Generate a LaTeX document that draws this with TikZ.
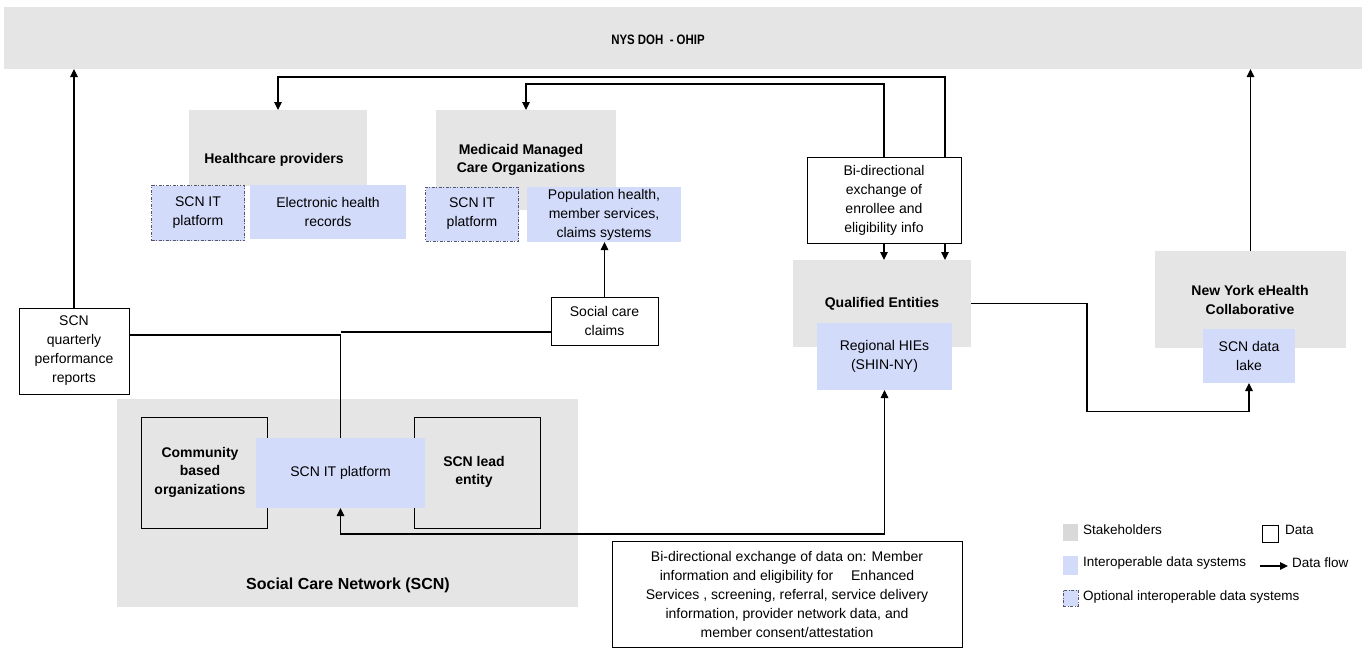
\documentclass[tikz,border=0pt]{standalone}
\usepackage{fontspec}
\usepackage{graphicx}
\setmainfont{Liberation Sans}
\usetikzlibrary{arrows.meta}
\definecolor{stake}{RGB}{229,229,229}
\definecolor{stakeL}{RGB}{217,217,217}
\definecolor{ids}{RGB}{211,219,250}
\definecolor{dashc}{RGB}{85,85,110}
\begin{document}
\begin{tikzpicture}[x=1pt,y=-1pt,
  font=\fontsize{14}{19}\selectfont,
  >={Triangle[length=8pt,width=7.5pt]},
  stk/.style={fill=stake, draw=none, inner sep=0pt, outer sep=0pt},
  sys/.style={fill=ids, draw=none, align=center, inner sep=0pt, outer sep=0pt},
  opt/.style={fill=ids, draw=dashc, line width=0.7pt, dash pattern=on 3pt off 1.5pt on 1pt off 1.5pt, align=center, inner sep=0pt, outer sep=0pt},
  dat/.style={draw=black, line width=0.8pt, fill=white, align=center, inner sep=0pt, outer sep=0pt},
  frame/.style={draw=black, line width=0.8pt, inner sep=0pt, outer sep=0pt},
  lbl/.style={font=\fontsize{14}{18.5}\selectfont\bfseries, align=center},
  flow/.style={line width=1.1pt, ->},
  link/.style={line width=1.1pt},
  legtxt/.style={anchor=west, font=\fontsize{13.5}{16}\selectfont, inner sep=0pt}
]
\useasboundingbox (0,0) rectangle (1366,648);

% ---------- stakeholders (grey) ----------
\node[stk, minimum width=1358, minimum height=62] (doh) at (683,38) {};
\node[stk, minimum width=178, minimum height=76] (hp) at (278,148) {};
\node[stk, minimum width=180, minimum height=100] (mmco) at (526,160) {};
\node[stk, minimum width=178, minimum height=87] (qe) at (882,303.5) {};
\node[stk, minimum width=191, minimum height=97] (nyec) at (1250.5,299.5) {};
\node[stk, minimum width=461, minimum height=208] (scn) at (347.5,503) {};

% ---------- data boxes ----------
\node[dat, minimum width=154, minimum height=86] (bidir) at (884,200)
  {Bi-directional\\exchange of\\enrollee and\\eligibility info};
\node[dat, minimum width=110, minimum height=86] (qrt) at (74,351)
  {SCN\\quarterly\\performance\\reports};
\node[dat, minimum width=107, minimum height=48] (claims) at (604.5,321)
  {Social care\\claims};
\node[dat, minimum width=350, minimum height=106] (bott) at (787,594)
  {Bi-directional exchange of data on: Member\\
   information and eligibility for\quad\ Enhanced\\
   Services , screening, referral, service delivery\\
   information, provider network data, and\\
   member consent/attestation};
\node[frame, minimum width=126, minimum height=111] (cbo) at (204,472.5) {};
\node[frame, minimum width=126, minimum height=111] (lead) at (477,472.5) {};

% ---------- interoperable data systems (blue) ----------
\node[opt, minimum width=93, minimum height=55] (hpopt) at (198,213) {SCN IT\\platform};
\node[sys, minimum width=156, minimum height=54] (ehr) at (328,212) {Electronic health\\records};
\node[opt, minimum width=93, minimum height=54] (mmopt) at (472,214) {SCN IT\\platform};
\node[sys, minimum width=154, minimum height=55] (pop) at (604,214.5) {Population health,\\member services,\\claims systems};
\node[sys, minimum width=135, minimum height=67] (hies) at (884.5,356.5) {Regional HIEs\\(SHIN-NY)};
\node[sys, minimum width=92, minimum height=54] (lake) at (1249,356) {SCN data\\lake};
\node[sys, minimum width=169, minimum height=70] (scnit) at (340.5,473) {SCN IT platform};

% ---------- labels ----------
\node (dohT) at (658,40) {\scalebox{0.88}[1.05]{\fontsize{13}{15}\selectfont\bfseries NYS DOH\ \ - OHIP}};
\node[lbl] (hpT) at (274,160) {Healthcare providers};
\node[lbl] (mmcoT) at (521,160) {Medicaid Managed\\Care Organizations};
\node[lbl] (qeT) at (882,304) {Qualified Entities};
\node[lbl] (nyecT) at (1250,300) {New York eHealth\\Collaborative};
\node[lbl] (cboT) at (200,472) {Community\\based\\organizations};
\node[lbl] (leadT) at (474,472) {SCN lead\\entity};
\node[lbl, font=\fontsize{16}{19}\selectfont\bfseries] (scnT) at (348,585) {Social Care Network (SCN)};

% ---------- connectors ----------
\draw[flow] (qrt.north) -- (qrt.north |- doh.south);
\draw[link] (scnit.north) |- ([yshift=16pt]qrt.east);
\draw[link] ([yshift=-11pt]claims.west) -- ([yshift=-11pt]claims.west -| scnit.north);
\draw[flow] (claims.north) -- (claims.north |- pop.south);
\draw[flow] ([xshift=61pt]bidir.north) -- ++(0,-80) -| (hp.north);
\draw[flow] (bidir.north) -- ++(0,-73) -| (mmco.north);
\draw[flow] (bidir.south) -- (bidir.south |- qe.north);
\draw[flow] ([xshift=61pt]bidir.south) -- ([xshift=61pt]bidir.south |- qe.north);
\draw[flow] (qe.east) -- ++(116,0) -- ++(0,108) -| (lake.south);
\draw[flow] (nyec.north) -- (nyec.north |- doh.south);
\draw[line width=1.1pt, <->] (scnit.south) -- ++(0,26) -| (hies.south);

% ---------- legend ----------
\node[fill=stakeL, minimum width=15, minimum height=17, inner sep=0pt] (lg1) at (1070.5,532.5) {};
\node[legtxt] (lg1t) at (1083,530) {Stakeholders};
\node[fill=ids, minimum width=15, minimum height=19, inner sep=0pt] (lg2) at (1070.5,565) {};
\node[legtxt] (lg2t) at (1083,563) {Interoperable data systems};
\node[opt, minimum width=15, minimum height=16] (lg3) at (1070.5,598) {};
\node[legtxt] (lg3t) at (1083,597) {Optional interoperable data systems};
\node[draw=black, line width=0.8pt, minimum width=16, minimum height=17, inner sep=0pt] (lg4) at (1270,533.5) {};
\node[legtxt] (lg4t) at (1285,530) {Data};
\coordinate (la) at (1260,566);
\coordinate (lb) at (1288,566);
\draw[flow] (la) -- (lb);
\node[legtxt] (lg5t) at (1292,563) {Data flow};
\end{tikzpicture}
\end{document}
